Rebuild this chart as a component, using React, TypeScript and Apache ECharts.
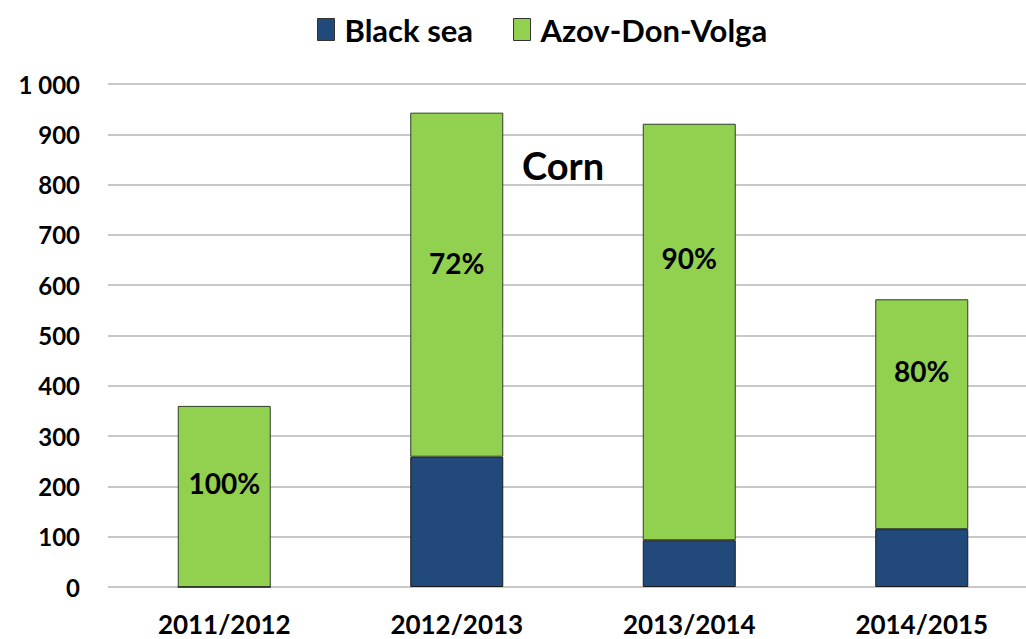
import React, { useEffect, useRef } from "react";
import * as echarts from "echarts";

const categories = ["2011/2012", "2012/2013", "2013/2014", "2014/2015"];
const blackSea = [0, 259, 93, 115];
const azovDonVolga = [360, 684, 828, 457];
const shareLabels = ["100%", "72%", "90%", "80%"];
const labelOffsets = [-13, -22, -74, -43];
const yTicks = { min: 0, max: 1000, interval: 100 };
const chartTitle = "Corn";

const FONT = "Lato, 'Open Sans', sans-serif";

export default function App() {
  const ref = useRef<HTMLDivElement>(null);
  useEffect(() => {
    if (!ref.current) return;
    const chart = echarts.init(ref.current, null, { renderer: "svg" });
    chart.setOption({
      animation: false,
      backgroundColor: "#ffffff",
      textStyle: { fontFamily: FONT },
      legend: {
        top: 9,
        left: 312,
        icon: "rect",
        itemWidth: 17,
        itemHeight: 22,
        itemGap: 40,
        itemStyle: { borderColor: "#333", borderWidth: 1 },
        textStyle: {
          fontSize: 31,
          fontWeight: "bold",
          color: "#000",
          fontFamily: FONT,
          padding: [0, 0, 0, 5],
        },
        data: ["Black sea", "Azov-Don-Volga"],
      },
      graphic: [
        {
          type: "text",
          left: 522,
          top: 146,
          style: { text: chartTitle, fontSize: 38, fontWeight: "bold", fill: "#000", fontFamily: FONT },
        },
      ],
      grid: {
        left: 108,
        top: 84,
        bottom: 52,
        width: 930,
        containLabel: false,
        outerBoundsMode: "none",
      },
      xAxis: {
        type: "category",
        data: categories,
        axisTick: { show: false },
        axisLine: { show: false },
        axisLabel: { fontSize: 26, fontWeight: "bold", color: "#000", margin: 24, fontFamily: FONT },
      },
      yAxis: {
        type: "value",
        min: yTicks.min,
        max: yTicks.max,
        interval: yTicks.interval,
        axisLine: { show: false },
        axisTick: { show: false },
        splitLine: { lineStyle: { color: "#c8c8c8", width: 2 } },
        axisLabel: {
          fontSize: 24,
          fontWeight: "bold",
          color: "#000",
          margin: 28,
          fontFamily: FONT,
          formatter: (v: number) => String(v).replace(/\B(?=(\d{3})+(?!\d))/g, " "),
        },
      },
      series: [
        {
          name: "Black sea",
          type: "bar",
          stack: "total",
          barWidth: 93,
          data: blackSea,
          itemStyle: { color: "#214A7B", borderColor: "#1a1a1a", borderWidth: 1 },
        },
        {
          name: "Azov-Don-Volga",
          type: "bar",
          stack: "total",
          barWidth: 93,
          data: azovDonVolga.map((v, i) => ({
            value: v,
            label: {
              show: true,
              position: "inside",
              offset: [0, labelOffsets[i]],
              formatter: shareLabels[i],
              fontSize: 28,
              fontWeight: "bold",
              color: "#000",
              fontFamily: FONT,
            },
          })),
          itemStyle: { color: "#92D050", borderColor: "#2f3f2a", borderWidth: 1 },
        },
      ],
    });
    return () => chart.dispose();
  }, []);
  return (
    <div
      ref={ref}
      style={{ position: "fixed", left: 0, top: 0, width: 1026, height: 639, background: "#fff" }}
    />
  );
}
